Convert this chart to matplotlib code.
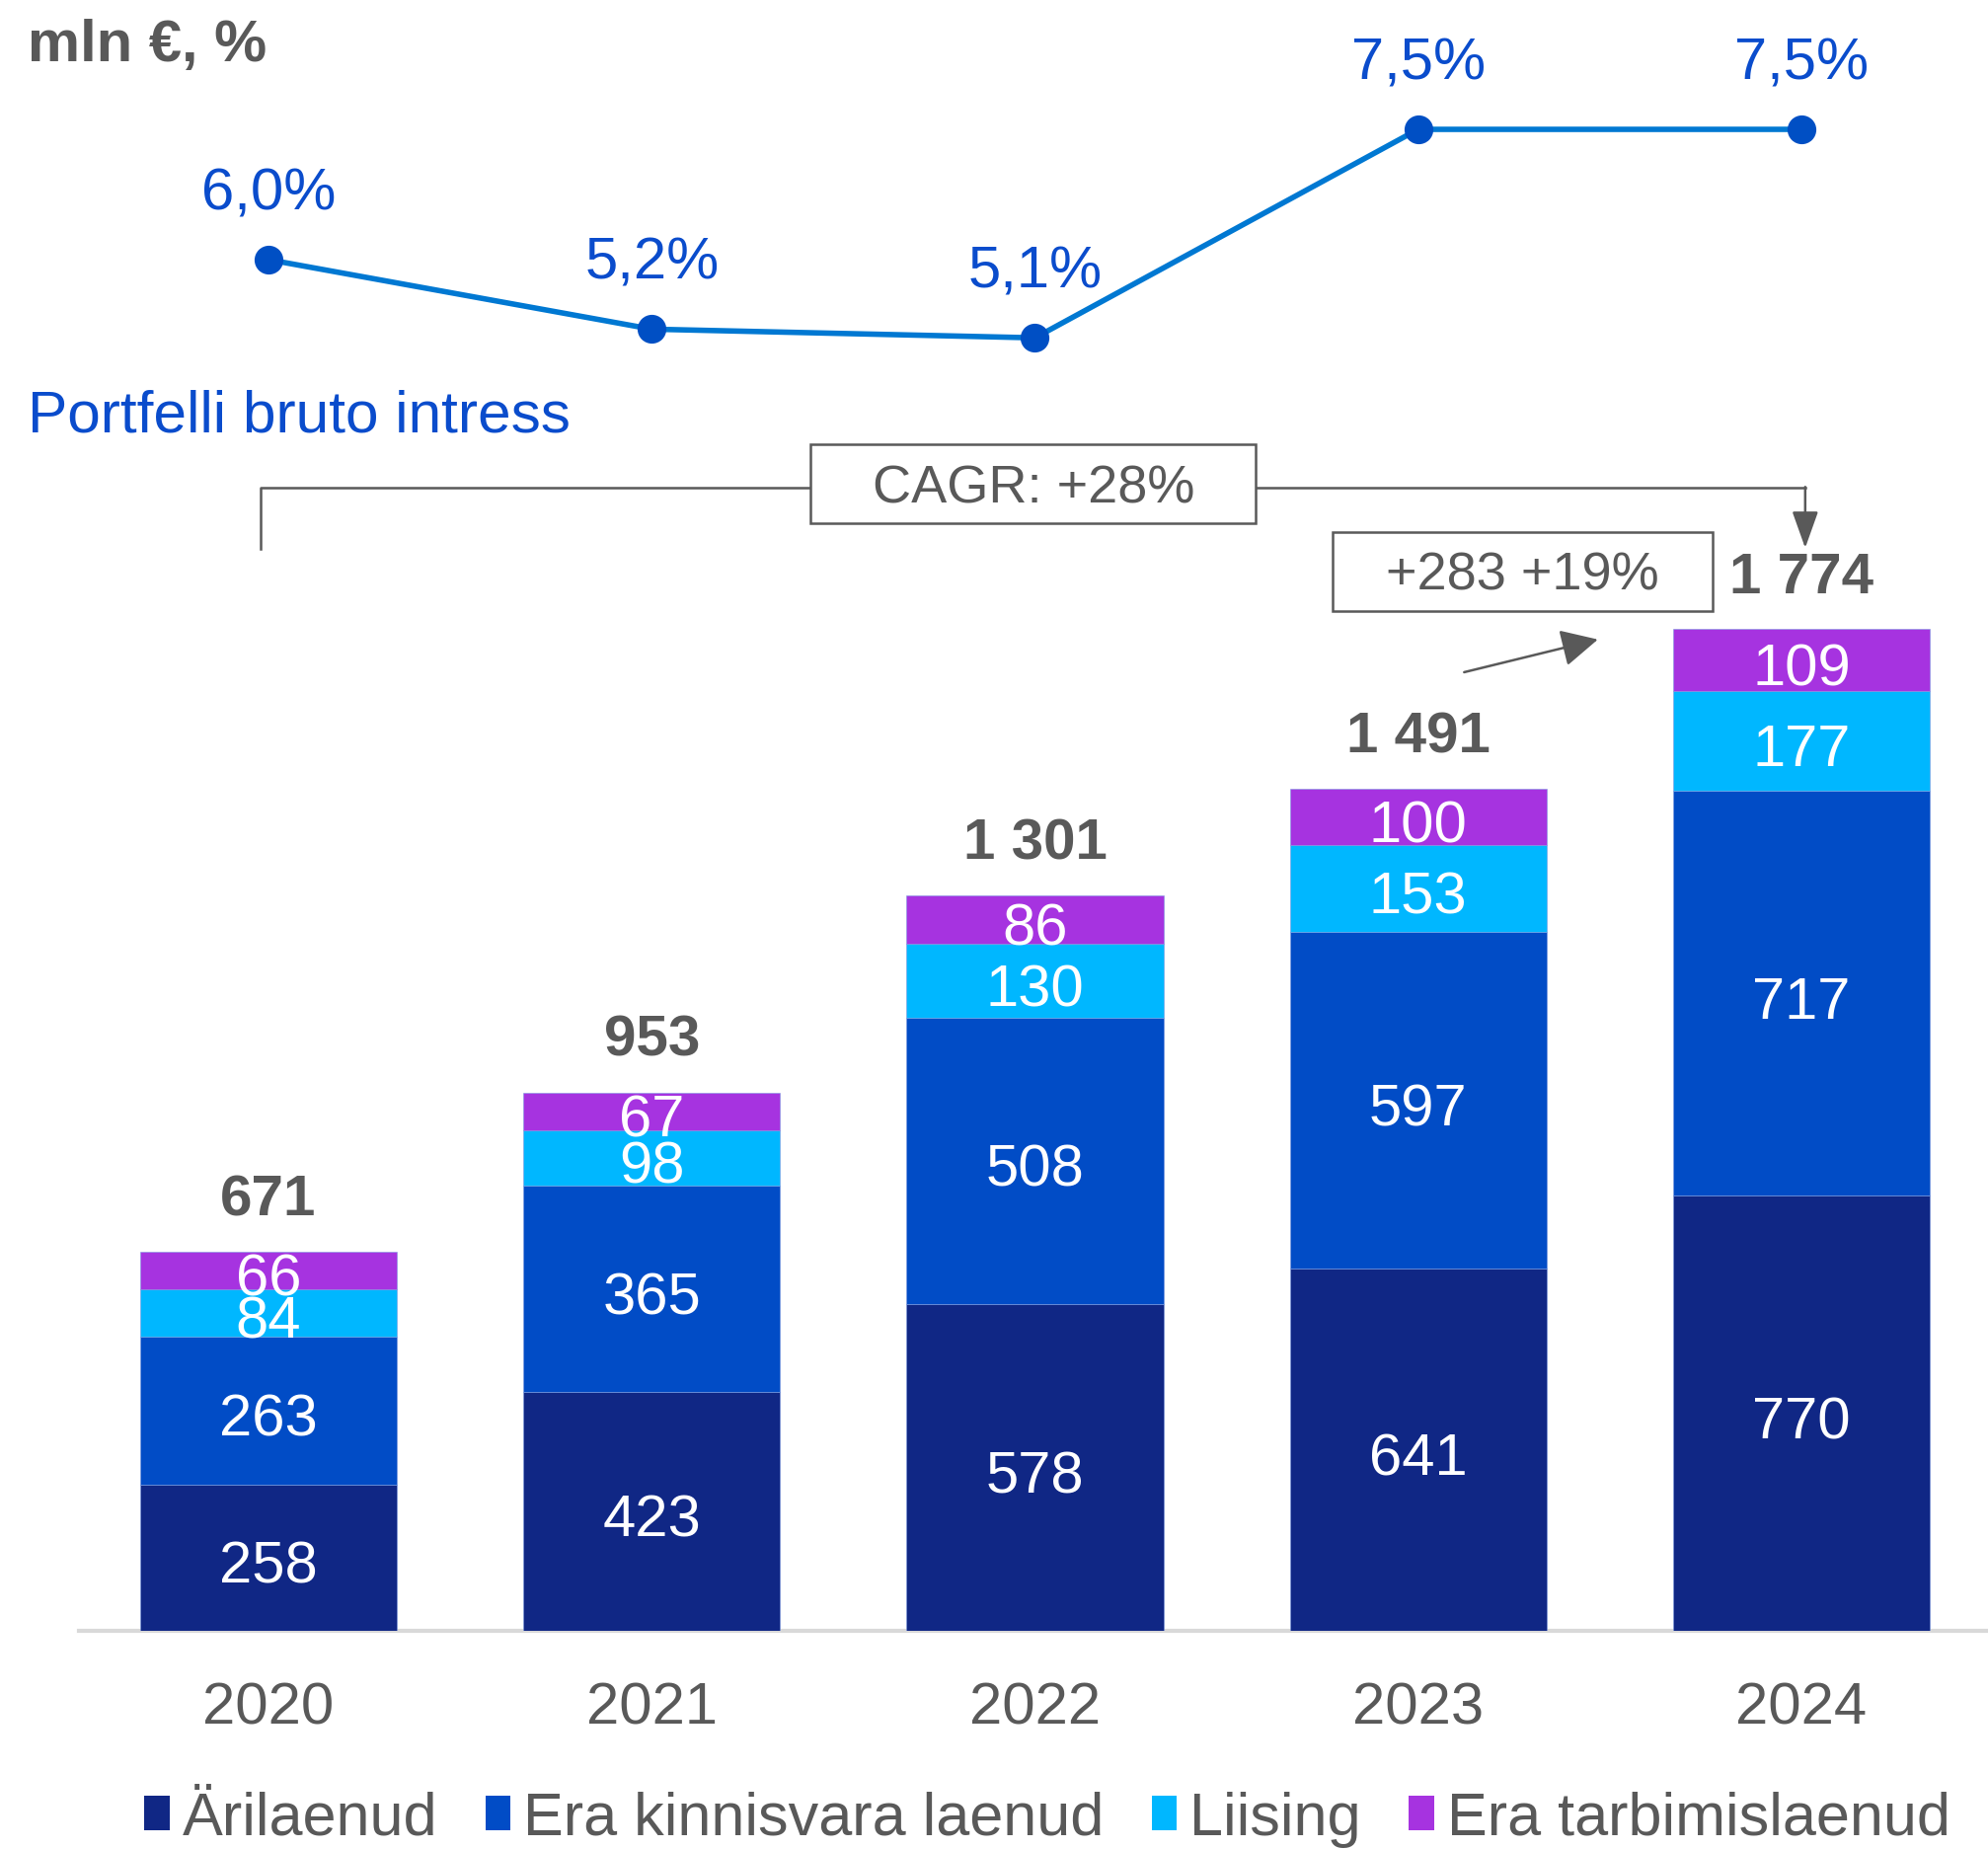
import matplotlib.pyplot as plt
from matplotlib.patches import Patch, Rectangle

plt.rcParams["font.family"] = ["Liberation Sans", "DejaVu Sans"]

years = ["2020", "2021", "2022", "2023", "2024"]
arilaenud = [258, 423, 578, 641, 770]
kinnisvara = [263, 365, 508, 597, 717]
liising = [84, 98, 130, 153, 177]
tarbimis = [66, 67, 86, 100, 109]
totals = [671, 953, 1301, 1491, 1774]
intress = [6.0, 5.2, 5.1, 7.5, 7.5]
intress_labels = ["6,0%", "5,2%", "5,1%", "7,5%", "7,5%"]
series_names = ["Ärilaenud", "Era kinnisvara laenud", "Liising", "Era tarbimislaenud"]
colors = ["#102785", "#014cc6", "#00b7ff", "#a633e0"]

gray = "#595959"
blue_text = "#0a4ccc"

W, H = 2014, 1873
fig = plt.figure(figsize=(W / 100, H / 100), dpi=100)
ax = fig.add_axes([80 / W, 1 - 1652 / H, 1 - 80 / W, 1652 / H])
ax.set_xlim(-0.4946, 4.487)
ax.set_ylim(0, 2887)

x = list(range(len(years)))
bottom = [0] * len(years)
for vals, col in zip([arilaenud, kinnisvara, liising, tarbimis], colors):
    ax.bar(x, vals, bottom=bottom, width=0.67, color=col, edgecolor="#7f9be0",
           linewidth=0.4, zorder=3)
    for i, v in enumerate(vals):
        ax.annotate(str(v), (i, bottom[i] + v / 2), xytext=(0, -18.5),
                    textcoords="offset points", ha="center", va="baseline",
                    color="white", fontsize=43, zorder=4)
    bottom = [b + v for b, v in zip(bottom, vals)]

# totals above bars
for i, t in enumerate(totals):
    ax.annotate(f"{t:,}".replace(",", " "), (i, bottom[i]), xytext=(0, 26.5),
                textcoords="offset points", ha="center", va="baseline",
                color=gray, fontsize=42, fontweight="bold")

ax.set_xticks(x)
ax.set_xticklabels(years, fontsize=43, color=gray)
ax.tick_params(axis="x", length=0, pad=37)
ax.set_yticks([])
for s in ["top", "left", "right"]:
    ax.spines[s].set_visible(False)
ax.spines["bottom"].set_color("#d9d9d9")
ax.spines["bottom"].set_linewidth(3)

# interest rate line
ax2 = ax.twinx()
ax2.set_ylim(-9.784, 8.989)
ax2.plot(x, intress, color="#0078d2", lw=4, marker="o", markersize=20,
         markerfacecolor="#004fc4", markeredgecolor="#004fc4", zorder=5)
for i, (v, lab) in enumerate(zip(intress, intress_labels)):
    ax2.annotate(lab, (i, v), xytext=(0, 36.7), textcoords="offset points",
                 ha="center", va="baseline", color=blue_text, fontsize=43)
ax2.set_yticks([])
for s in ax2.spines.values():
    s.set_visible(False)

# CAGR bracket
ax.plot([-0.02, -0.02, 4.01], [1915, 2024, 2024], color=gray, lw=1.8,
        clip_on=False, zorder=6)
ax.annotate("", xy=(4.01, 1917), xytext=(4.01, 2025),
            arrowprops=dict(arrowstyle="-|>,head_length=1.15,head_width=0.41",
                            color=gray, lw=1.8, mutation_scale=20,
                            shrinkA=0, shrinkB=0), zorder=6)
ax.add_patch(Rectangle((1.415, 1961), 2.577 - 1.415, 2101 - 1961,
                       facecolor="white", edgecolor=gray, lw=1.8,
                       clip_on=False, zorder=7))
ax.text(1.996, 1996, "CAGR: +28%", ha="center", va="baseline",
        fontsize=39, color=gray, zorder=8)

# year-over-year change
ax.add_patch(Rectangle((2.776, 1805), 3.768 - 2.776, 1945 - 1805,
                       facecolor="white", edgecolor=gray, lw=1.8,
                       clip_on=False, zorder=7))
ax.text(3.271, 1842, "+283 +19%", ha="center", va="baseline",
        fontsize=39, color=gray, zorder=8)
ax.annotate("", xy=(3.469, 1755), xytext=(3.12, 1697),
            arrowprops=dict(arrowstyle="-|>,head_length=1.15,head_width=0.58",
                            color=gray, lw=1.8, mutation_scale=20,
                            shrinkA=0, shrinkB=0), zorder=6)

fig.text(28 / W, 1 - 62 / H, "mln €, %", fontsize=43, fontweight="bold",
         color=gray, ha="left", va="baseline")
fig.text(28 / W, 1 - 438 / H, "Portfelli bruto intress", fontsize=43.5,
         color=blue_text, ha="left", va="baseline")

handles = [Patch(facecolor=c, edgecolor="none") for c in colors]
leg = fig.legend(handles, series_names, loc="center", ncol=4, frameon=False,
                 bbox_to_anchor=(1061 / W, 1 - 1843 / H), fontsize=44,
                 handlelength=0.42, handleheight=0.5, handletextpad=0.21,
                 columnspacing=0.79, borderpad=0, borderaxespad=0)
for t in leg.get_texts():
    t.set_color(gray)

fig.savefig("out.png", dpi=100)
